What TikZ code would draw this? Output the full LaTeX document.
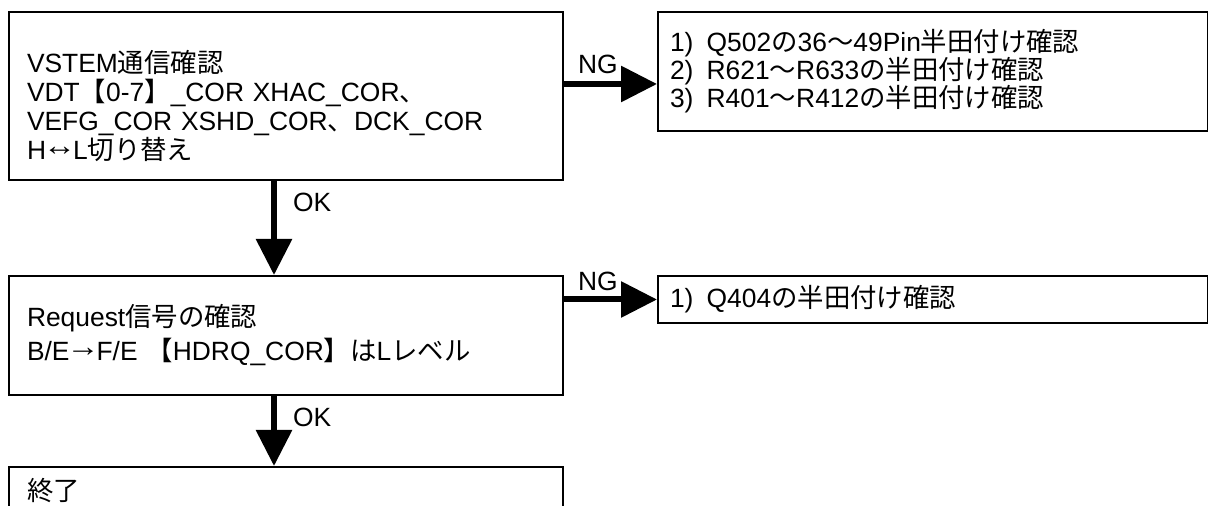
\documentclass[tikz,border=0pt]{standalone}
\usepackage{fontspec}
\setmainfont{Liberation Sans}
\newfontfamily\jp{Noto Sans CJK JP}
\usetikzlibrary{arrows.meta}
\newcommand{\sarr}[1]{\kern-1.5pt\smash{\raisebox{2pt}{\scalebox{1.25}[1.1]{#1}}}\kern-1.5pt}

\begin{document}
\begin{tikzpicture}[x=0.5pt, y=-0.5pt,
    every node/.style={font=\fontsize{13.2pt}{14.5pt}\selectfont},
    box/.style={draw, line width=1pt, anchor=north west, align=left, inner xsep=9pt, text width=259pt},
    ngbox/.style={box, inner xsep=6pt, text width=263pt},
    flow/.style={-{Triangle[length=18pt,width=17.5pt]}, line width=3pt},
    lbl/.style={inner sep=1pt}]
    \clip (0,0) rectangle (1208,506);

    \node[box, minimum height=84pt] (chk) at (8,11)
        {\rule{0pt}{21.5pt}VSTEM{\jp 通信確認}\\
         VDT{\jp 【}0-7{\jp 】}\_COR XHAC\_COR{\jp 、}\\
         VEFG\_COR XSHD\_COR{\jp 、}DCK\_COR\\
         H\sarr{↔}L{\jp 切り替え}};
    \node[ngbox, minimum height=59.5pt, font=\fontsize{13.2pt}{14pt}\selectfont] (ng1) at (657,11)
        {1)\enspace Q502{\jp の}36{\jp 〜}49Pin{\jp 半田付け確認}\\
         2)\enspace R621{\jp 〜}R633{\jp の半田付け確認}\\
         3)\enspace R401{\jp 〜}R412{\jp の半田付け確認}};
    \node[box, minimum height=59.5pt, font=\fontsize{13.2pt}{17pt}\selectfont] (req) at (8,275)
        {Request{\jp 信号の確認}\\
         B/E\sarr{→}F/E {\jp 【}HDRQ\_COR{\jp 】は}L{\jp レベル}};
    \node[ngbox, minimum height=23.5pt] (ng2) at (657,275)
        {1)\enspace Q404{\jp の半田付け確認}};
    \node[box, inner ysep=5.5pt] (fin) at (8,466) {{\jp 終了}};

    % OK / NG
    \draw[flow] ([yshift=6pt]chk.east) -- ([yshift=6pt]chk.east -| ng1.west)
        node[lbl, pos=0, anchor=south west, xshift=4.5pt, yshift=2.5pt] {NG};
    \draw[flow] ([xshift=-6pt]chk.south) -- ([xshift=-6pt]req.north)
        node[lbl, pos=0, anchor=north west, xshift=7pt, yshift=-3.5pt] {OK};
    \draw[flow] ([yshift=18pt]req.east) -- ([yshift=18pt]req.east -| ng2.west)
        node[lbl, pos=0, anchor=south west, xshift=4.5pt, yshift=2pt] {NG};
    \draw[flow] ([xshift=-6pt]req.south) -- ([xshift=-6pt]fin.north)
        node[lbl, pos=0, anchor=north west, xshift=7pt, yshift=-3.5pt] {OK};
\end{tikzpicture}
\end{document}
